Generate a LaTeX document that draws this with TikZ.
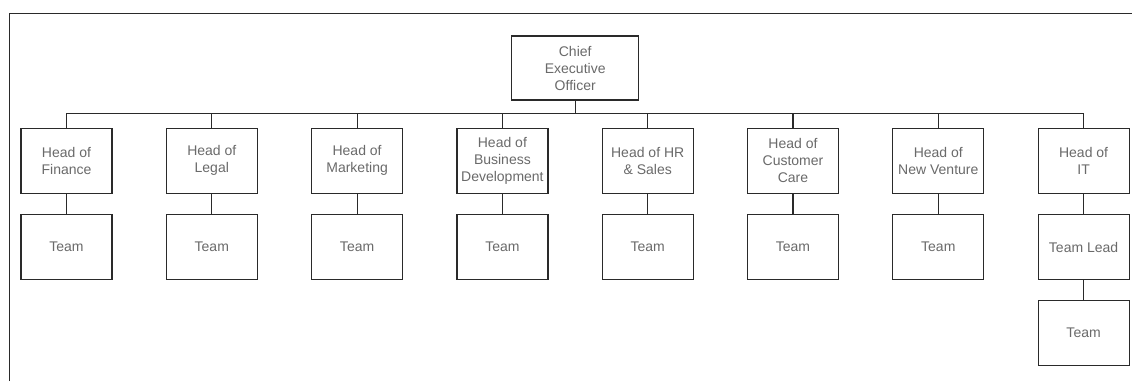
\documentclass[tikz,border=0pt]{standalone}
\usepackage{fontspec}
\setmainfont{Liberation Sans}
\definecolor{boxline}{HTML}{2A2A2A}
\definecolor{labeltext}{HTML}{6A6A6A}
\begin{document}
\begin{tikzpicture}[x=1pt,y=-1pt,
  unit/.style={draw=boxline, line width=1.2pt, fill=white,
    minimum width=91pt, minimum height=65pt, inner sep=1pt,
    align=center, text=labeltext,
    font=\fontsize{14}{17}\selectfont},
  link/.style={draw=boxline, line width=1.2pt}]
\useasboundingbox (0,0) rectangle (1132,381);
% page frame (only its top and left edges fall inside the picture)
\draw[boxline, line width=1pt] (9,381) -- (9,13) -- (1132,13);

% top of the chart
\node[unit, minimum width=127pt, minimum height=64pt] (ceo) at (575.2,68) {Chief\\Executive\\Officer};

% heads of department
\node[unit] (fin) at (66.5,160.8)  {Head of\\Finance};
\node[unit] (leg) at (211.8,160.8) {Head of\\Legal};
\node[unit] (mkt) at (357.1,160.8) {Head of\\Marketing};
\node[unit] (bd)  at (502.4,160.8) {Head of\\Business\\Development};
\node[unit] (hr)  at (647.7,160.8) {Head of HR\\\& Sales};
\node[unit] (cc)  at (793.0,160.8) {Head of\\Customer\\Care};
\node[unit] (nv)  at (938.3,160.8) {Head of\\New Venture};
\node[unit] (it)  at (1083.6,160.8) {Head of\\IT};

% teams
\node[unit] (tfin) at (66.5,247)  {Team};
\node[unit] (tleg) at (211.8,247) {Team};
\node[unit] (tmkt) at (357.1,247) {Team};
\node[unit] (tbd)  at (502.4,247) {Team};
\node[unit] (thr)  at (647.7,247) {Team};
\node[unit] (tcc)  at (793.0,247) {Team};
\node[unit] (tnv)  at (938.3,247) {Team};
\node[unit] (lead) at (1083.6,247) {Team Lead};
\node[unit] (tit)  at (1083.6,333) {Team};

% reporting lines
\coordinate (bus) at (575.2,113.3);
\foreach \h in {fin,leg,mkt,bd,hr,cc,nv,it}
  \draw[link] (ceo.south) |- (bus -| \h.north) -- (\h.north);
\foreach \h/\t in {fin/tfin,leg/tleg,mkt/tmkt,bd/tbd,hr/thr,cc/tcc,nv/tnv,it/lead,lead/tit}
  \draw[link] (\h.south) -- (\t.north);
\end{tikzpicture}
\end{document}
